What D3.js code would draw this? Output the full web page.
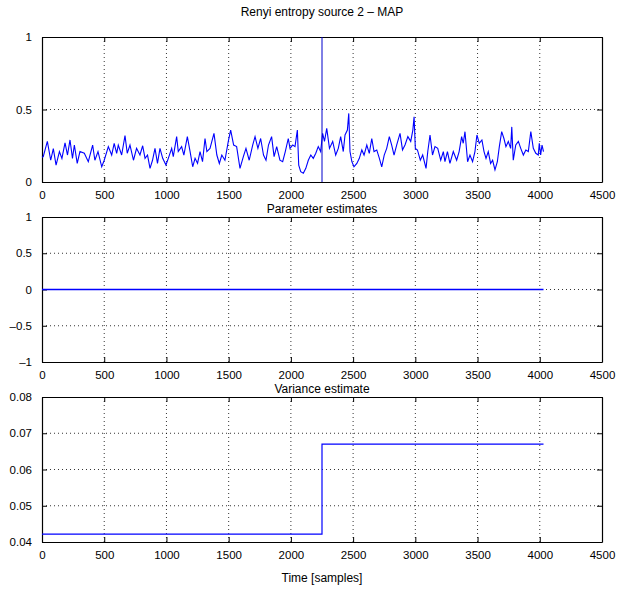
<!DOCTYPE html>
<html>
<head>
<meta charset="utf-8">
<script src="https://cdn.jsdelivr.net/npm/d3@7"></script>
<style>
  body { margin: 0; background: #fff; }
  text { font-family: "Liberation Sans", Arial, sans-serif; fill: #000; }
  .grid line { stroke: #000; stroke-dasharray: 1,3; stroke-width: 0.8; }
</style>
</head>
<body>
<div id="chart"></div>
<script>
// sample positions and values
const renyiSamples = [0,10,43,70,91,113,140,160,185,205,225,245,260,283,305,340,372,407,425,450,480,500,533,560,580,600,613,640,667,685,707,735,760,787,809,828,848,868,888,908,928,948,970,996,1015,1042,1055,1082,1095,1122,1140,1168,1190,1211,1230,1250,1270,1290,1310,1325,1350,1382,1405,1425,1445,1470,1497,1516,1540,1564,1591,1618,1639,1665,1693,1712,1735,1757,1780,1800,1820,1845,1865,1886,1912,1934,1955,1979,1993,2015,2033,2052,2063,2079,2100,2120,2140,2160,2180,2200,2220,2239,2255,2270,2288,2310,2336,2360,2381,2400,2421,2435,2454,2465,2475,2490,2507,2530,2550,2570,2588,2610,2630,2650,2668,2690,2711,2730,2750,2770,2791,2810,2829,2850,2877,2897,2917,2940,2963,2980,2990,3000,3017,3040,3059,3086,3100,3118,3138,3158,3180,3204,3225,3238,3258,3278,3305,3332,3352,3372,3385,3399,3420,3439,3460,3479,3495,3514,3535,3552,3568,3586,3605,3621,3640,3659,3675,3694,3712,3728,3747,3766,3775,3787,3807,3828,3847,3868,3888,3908,3928,3948,3968,3988,3996,4007,4018,4030];
const renyiValues = [0.17,0.175,0.28,0.15,0.23,0.117,0.21,0.163,0.27,0.186,0.29,0.163,0.255,0.128,0.21,0.198,0.14,0.255,0.15,0.21,0.105,0.15,0.244,0.186,0.267,0.198,0.255,0.186,0.32,0.198,0.255,0.15,0.232,0.186,0.25,0.163,0.186,0.094,0.15,0.232,0.128,0.232,0.163,0.117,0.163,0.232,0.175,0.313,0.21,0.244,0.186,0.313,0.21,0.105,0.163,0.128,0.21,0.14,0.3,0.21,0.232,0.335,0.186,0.128,0.186,0.15,0.28,0.358,0.255,0.244,0.094,0.175,0.232,0.15,0.255,0.313,0.232,0.3,0.186,0.15,0.255,0.313,0.175,0.244,0.15,0.14,0.21,0.3,0.232,0.255,0.244,0.358,0.117,0.071,0.06,0.094,0.15,0.186,0.163,0.198,0.244,0.21,0.335,0.28,0.37,0.232,0.28,0.186,0.232,0.313,0.21,0.324,0.358,0.473,0.21,0.14,0.105,0.128,0.163,0.221,0.186,0.255,0.198,0.3,0.21,0.221,0.163,0.105,0.186,0.232,0.313,0.255,0.186,0.255,0.335,0.221,0.255,0.313,0.28,0.358,0.45,0.232,0.221,0.15,0.186,0.094,0.21,0.324,0.186,0.244,0.232,0.15,0.21,0.14,0.21,0.128,0.21,0.15,0.21,0.313,0.267,0.347,0.14,0.186,0.14,0.21,0.324,0.267,0.29,0.21,0.163,0.21,0.128,0.15,0.083,0.14,0.244,0.347,0.3,0.244,0.28,0.232,0.38,0.15,0.255,0.28,0.232,0.186,0.221,0.21,0.347,0.232,0.198,0.186,0.267,0.186,0.255,0.21,0.244];
const changePoint = 2250;

const paramSamples = [0, 4030];
const paramValues = [0, 0];

const varSamples = [0, 2250, 2250, 4030];
const varValues = [0.0422, 0.0422, 0.067, 0.067];

const xTicks = [0,500,1000,1500,2000,2500,3000,3500,4000,4500];
const panelTitles = ['Renyi entropy source 2 \u2013 MAP', 'Parameter estimates', 'Variance estimate'];
const yTicksTop = [0, 0.5, 1];
const yTicksMid = [-1, -0.5, 0, 0.5, 1];
const yTicksBot = [0.04, 0.05, 0.06, 0.07, 0.08];

const W = 622, H = 606;
const left = 42, plotW = 560, plotH = 145;
const tops = [37, 217, 397];
const titleOffsets = [-21, -4, -4];

const svg = d3.select('#chart').append('svg')
  .attr('width', W)
  .attr('height', H);

const x = d3.scaleLinear().domain([0, 4500]).range([0, plotW]);
const fmtY = d => (d < 0 ? '\u2013' : '') + d3.format('')(Math.abs(d));

function panel(i, domain, yTicks, yFmt) {
  const top = tops[i];
  const y = d3.scaleLinear().domain(domain).range([plotH, 0]);
  const g = svg.append('g').attr('transform', `translate(${left},${top})`);

  // dotted grid
  const grid = g.append('g').attr('class', 'grid');
  grid.selectAll('.gx').data(xTicks.slice(1, -1)).enter().append('line')
    .attr('x1', d => x(d)).attr('x2', d => x(d))
    .attr('y1', 0).attr('y2', plotH);
  grid.selectAll('.gy').data(yTicks.slice(1, -1)).enter().append('line')
    .attr('x1', 0).attr('x2', plotW)
    .attr('y1', d => y(d)).attr('y2', d => y(d));

  // axes, ticks pointing inward on all four sides
  const tl = 5;
  g.append('g').attr('transform', `translate(0,${plotH})`)
    .call(d3.axisBottom(x).tickValues(xTicks).tickSizeInner(-tl).tickSizeOuter(0).tickPadding(9).tickFormat(d3.format('')));
  g.append('g')
    .call(d3.axisTop(x).tickValues(xTicks).tickSizeInner(-tl).tickSizeOuter(0).tickFormat(''));
  g.append('g')
    .call(d3.axisLeft(y).tickValues(yTicks).tickSizeInner(-tl).tickSizeOuter(0).tickPadding(10).tickFormat(yFmt));
  g.append('g').attr('transform', `translate(${plotW},0)`)
    .call(d3.axisRight(y).tickValues(yTicks).tickSizeInner(-tl).tickSizeOuter(0).tickFormat(''));
  g.selectAll('.domain').attr('stroke', '#000').attr('stroke-width', 1.2);
  g.selectAll('.tick line').attr('stroke', '#000');
  g.selectAll('.tick text')
    .attr('font-family', '"Liberation Sans", Arial, sans-serif')
    .attr('font-size', 11.5);

  g.append('text')
    .attr('x', plotW / 2).attr('y', titleOffsets[i])
    .attr('text-anchor', 'middle')
    .style('font-size', '12px')
    .text(panelTitles[i]);
  return {g, y};
}

function drawLine(p, xs, ys, width) {
  p.g.append('path')
    .datum(xs.map((s, i) => [s, ys[i]]))
    .attr('fill', 'none')
    .attr('stroke', '#0000ff')
    .attr('stroke-width', width)
    .attr('d', d3.line().x(d => x(d[0])).y(d => p.y(d[1])));
}

// top panel
const p1 = panel(0, [0, 1], yTicksTop, fmtY);
drawLine(p1, renyiSamples, renyiValues, 1.1);
p1.g.append('line')
  .attr('x1', x(changePoint)).attr('x2', x(changePoint))
  .attr('y1', p1.y(0)).attr('y2', p1.y(1))
  .attr('stroke', '#0000cc').attr('stroke-width', 1);

// middle panel
const p2 = panel(1, [-1, 1], yTicksMid, fmtY);
drawLine(p2, paramSamples, paramValues, 1.4);

// bottom panel
const p3 = panel(2, [0.04, 0.08], yTicksBot, d3.format('.2f'));
drawLine(p3, varSamples, varValues, 1.2);

svg.append('text')
  .attr('x', left + plotW / 2).attr('y', tops[2] + plotH + 40)
  .attr('text-anchor', 'middle')
  .style('font-size', '12px')
  .text('Time [samples]');
</script>
</body>
</html>
